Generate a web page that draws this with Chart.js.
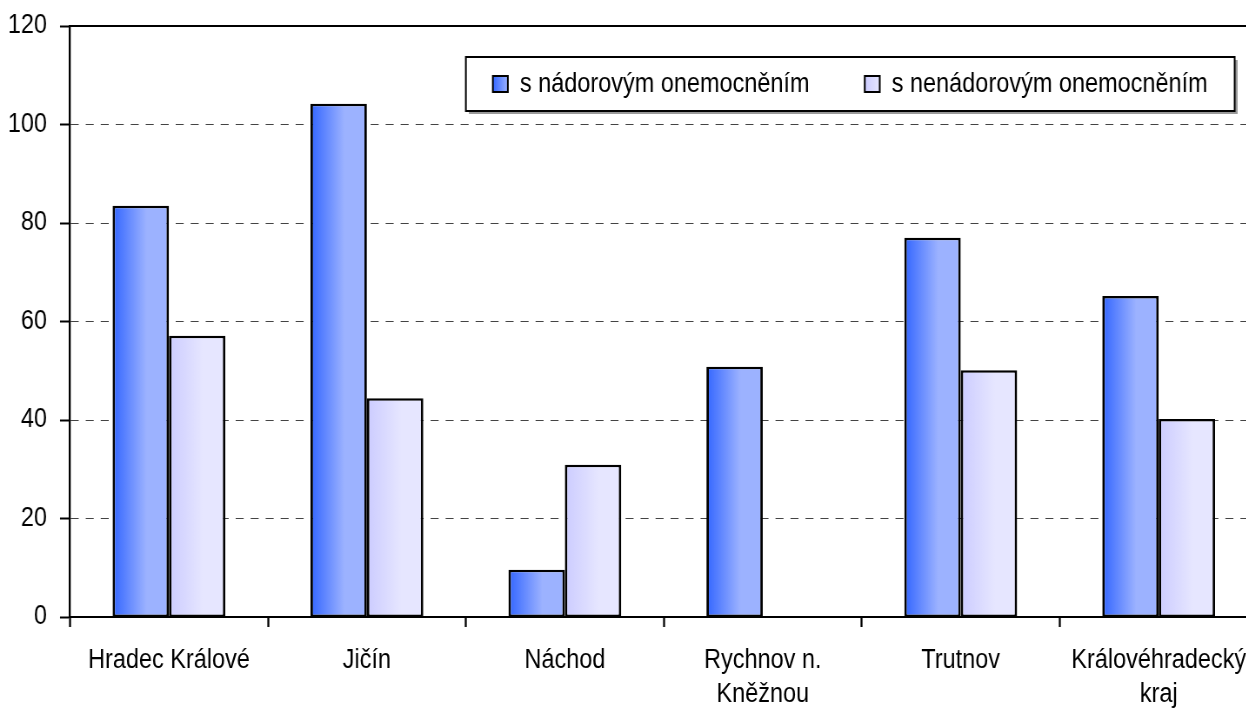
<!DOCTYPE html>
<html>
<head>
<meta charset="utf-8">
<script src="https://cdn.jsdelivr.net/npm/chart.js@4.4.1/dist/chart.umd.min.js"></script>
<style>
  html, body { margin: 0; padding: 0; background: #fff; overflow: hidden; }
  #wrap { width: 1246px; height: 708px; overflow: hidden; position: relative; }
</style>
</head>
<body>
<!-- canvas is drawn wider and squeezed, so the Arial-like text looks narrow like in the original -->
<div id="wrap"><canvas id="myChart" width="1451" height="708" style="width:1262px;height:708px;display:block"></canvas></div>
<script>
// data
var okresy = ['Hradec Králové', 'Jičín', 'Náchod', ['Rychnov n.', 'Kněžnou'], 'Trutnov', ['Královéhradecký', 'kraj']];
var nadorove = [83.5, 104.2, 9.6, 50.8, 77.0, 65.2];
var nenadorove = [57.1, 44.4, 30.9, 0, 50.1, 40.2];
var nazvy = ['s nádorovým onemocněním', 's nenádorovým onemocněním'];
var osaY = [0, 20, 40, 60, 80, 100, 120];

var barvy = [['#3366ff', '#9cb2ff'], ['#ccccff', '#e6e6ff']];
var catPct = 0.57;
var K = 0.87; // horizontal squeeze (css width / canvas width)
function ix(x) { return x / K; }

Chart.defaults.font.family = '"Liberation Sans", Arial, sans-serif';
Chart.defaults.font.size = 27;
Chart.defaults.font.lineHeight = 1.25;
Chart.defaults.color = '#000';

function barGradient(ctx, dsIndex) {
    var chart = ctx.chart;
    var xs = chart.scales.x;
    if (!chart.chartArea || !xs || !xs.width) return barvy[dsIndex][0];
    var catW = xs.width / okresy.length;
    var barW = catW * catPct / 2;
    var center = xs.getPixelForValue(ctx.dataIndex);
    var left = center - barW + dsIndex * barW;
    var g = chart.ctx.createLinearGradient(left, 0, left + barW, 0);
    g.addColorStop(0, barvy[dsIndex][0]);
    g.addColorStop(0.6, barvy[dsIndex][1]);
    g.addColorStop(1, barvy[dsIndex][1]);
    return g;
}

var ramecek = {
    id: 'ramecek',
    afterDraw: function(chart) {
        var c = chart.ctx;
        var a = chart.chartArea;
        c.save();
        c.strokeStyle = '#000';
        c.lineWidth = 2;
        c.beginPath();
        c.moveTo(a.left, a.top);
        c.lineTo(a.right, a.top);
        c.stroke();

        // legend box
        var bx = ix(466), by = 57, bw = ix(1235) - ix(466), bh = 54;
        c.fillStyle = '#9a9a9a';
        c.fillRect(bx + ix(3), by + 3, bw, bh);
        c.fillStyle = '#fff';
        c.fillRect(bx, by, bw, bh);
        c.lineWidth = 2;
        c.strokeRect(bx, by, bw, bh);

        var pos = [[493, 520], [865, 892]];
        c.font = '27px "Liberation Sans", Arial, sans-serif';
        c.textBaseline = 'middle';
        c.textAlign = 'left';
        for (var i = 0; i < 2; i++) {
            var sx = ix(pos[i][0]), sy = 76, sw = ix(15);
            var g = c.createLinearGradient(sx, 0, sx + sw, 0);
            g.addColorStop(0, barvy[i][0]);
            g.addColorStop(1, barvy[i][1]);
            c.fillStyle = g;
            c.fillRect(sx, sy, sw, 16);
            c.lineWidth = 2;
            c.strokeRect(sx, sy, sw, 16);
            c.fillStyle = '#000';
            c.fillText(nazvy[i], ix(pos[i][1]), 85);
        }
        c.restore();
    }
};

var ramBarvy = { top: 2.5, bottom: 2, left: 2.5 / K, right: 2.5 / K };

var ctx = document.getElementById('myChart');
var myChart = new Chart(ctx, {
    type: 'bar',
    data: {
        labels: okresy,
        datasets: [{
            label: nazvy[0],
            data: nadorove,
            backgroundColor: function(c) { return barGradient(c, 0); },
            borderColor: '#000',
            borderWidth: ramBarvy,
            borderSkipped: false
        },
        {
            label: nazvy[1],
            data: nenadorove,
            backgroundColor: function(c) { return barGradient(c, 1); },
            borderColor: '#000',
            borderWidth: function(c) { return c.raw ? ramBarvy : 0; },
            borderSkipped: false
        }]
    },
    options: {
        responsive: false,
        animation: false,
        devicePixelRatio: 1,
        layout: { padding: { top: 26, right: 1451 - ix(1258), left: 0, bottom: 0 } },
        datasets: { bar: { categoryPercentage: catPct, barPercentage: 1 } },
        plugins: { legend: { display: false }, tooltip: { enabled: false } },
        scales: {
            x: {
                grid: { drawOnChartArea: false, offset: true, tickLength: 10, tickColor: '#000', tickWidth: 2 / K },
                border: { color: '#000', width: 2 },
                ticks: { padding: 17, maxRotation: 0, autoSkip: false },
                afterFit: function(s) { s.height = 91; }
            },
            y: {
                min: 0,
                max: 120,
                afterBuildTicks: function(s) { s.ticks = osaY.map(function(v) { return { value: v }; }); },
                grid: {
                    color: function(c) { return (c.tick && (c.tick.value === 120 || c.tick.value === 0)) ? 'rgba(0,0,0,0)' : '#444'; },
                    lineWidth: 1,
                    tickLength: ix(10),
                    tickColor: '#000',
                    tickWidth: 2,
                    tickBorderDash: []
                },
                border: { color: '#000', width: 2 / K, dash: [ix(8), ix(7)] },
                ticks: { padding: ix(13) },
                afterFit: function(s) {
                    s.width = ix(70);
                    s.paddingTop = 0;
                    s.paddingBottom = 0;
                }
            }
        }
    },
    plugins: [ramecek]
});
</script>
</body>
</html>
